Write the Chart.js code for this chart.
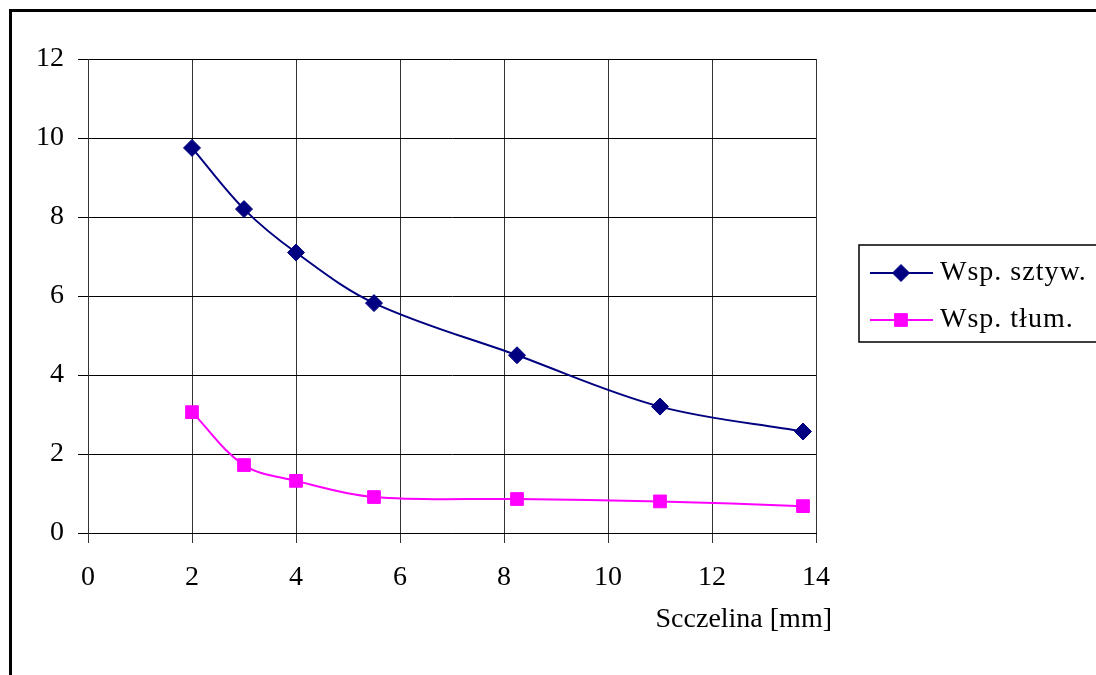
<!DOCTYPE html>
<html>
<head>
<meta charset="utf-8">
<script src="https://cdn.jsdelivr.net/npm/chart.js@4/dist/chart.umd.min.js"></script>
<style>
  html, body { margin: 0; padding: 0; background: #fff; overflow: hidden; }
  #wrap { position: relative; width: 1096px; height: 675px; }
</style>
</head>
<body>
<div id="wrap"><canvas id="chart" width="1096" height="675"></canvas></div>
<script>
// gap sizes [mm]
var gapMm = [2, 3, 4, 5.5, 8.25, 11, 13.75];
// Wsp. sztyw. (stiffness coefficient)
var stiffness = [9.75, 8.2, 7.1, 5.82, 4.5, 3.2, 2.57];
// Wsp. tłum. (damping coefficient)
var damping = [3.06, 1.72, 1.32, 0.91, 0.86, 0.8, 0.68];
var seriesNames = ['Wsp. sztyw.', 'Wsp. tłum.'];
var xTicks = [0, 2, 4, 6, 8, 10, 12, 14];
var yTicks = [0, 2, 4, 6, 8, 10, 12];
var xTitle = 'Scczelina [mm]';

var FONT = "'Liberation Serif', 'Times New Roman', serif";

function toPoints(xs, ys){
    var pts = [];
    for (var i = 0; i < xs.length; i++) {
        pts.push({x: xs[i], y: ys[i]});
    }
    return pts;
}

// frame, x-axis title and the legend box are drawn by hand
var excelDecor = {
    id: 'excelDecor',
    beforeDraw: function(chart){
        var ctx = chart.ctx;
        ctx.save();
        ctx.strokeStyle = '#000';
        ctx.lineWidth = 3;
        ctx.strokeRect(10.5, 10.5, 2000, 2000);
        ctx.restore();
    },
    afterDraw: function(chart){
        var ctx = chart.ctx;
        var area = chart.chartArea;
        ctx.save();
        ctx.font = '28px ' + FONT;
        ctx.fillStyle = '#000';
        ctx.textBaseline = 'middle';
        ctx.textAlign = 'right';
        ctx.fillText(xTitle, area.right + 16, 620);

        // legend
        ctx.strokeStyle = '#000';
        ctx.lineWidth = 1.5;
        ctx.strokeRect(859, 245, 400, 97);
        var rows = [273, 320];
        chart.data.datasets.forEach(function(ds, i){
            var y = rows[i];
            ctx.strokeStyle = ds.borderColor;
            ctx.lineWidth = 2;
            ctx.beginPath();
            ctx.moveTo(870, y);
            ctx.lineTo(933, y);
            ctx.stroke();
            ctx.fillStyle = ds.pointBackgroundColor;
            ctx.strokeStyle = ds.pointBorderColor;
            ctx.lineWidth = 1;
            Chart.helpers.drawPoint(ctx, {
                pointStyle: ds.pointStyle,
                radius: ds.pointRadius,
                borderWidth: 1
            }, 901, y);
            ctx.fillStyle = '#000';
            ctx.textAlign = 'left';
            ctx.letterSpacing = '1px';
            ctx.fillText(ds.label, 940, y);
            ctx.letterSpacing = '0px';
        });
        ctx.restore();
    }
};

var ctx = document.getElementById('chart');
var chart = new Chart(ctx, {
    type: 'line',
    data: {
        datasets: [
            {
                label: seriesNames[0],
                data: toPoints(gapMm, stiffness),
                borderColor: '#000080',
                backgroundColor: '#000080',
                borderWidth: 2,
                pointStyle: 'rectRot',
                pointRadius: 8.5,
                pointBackgroundColor: '#000080',
                pointBorderColor: '#000080',
                pointBorderWidth: 1,
                tension: 0.35
            },
            {
                label: seriesNames[1],
                data: toPoints(gapMm, damping),
                borderColor: '#ff00ff',
                backgroundColor: '#ff00ff',
                borderWidth: 2,
                pointStyle: 'rect',
                pointRadius: 9,
                pointBackgroundColor: '#ff00ff',
                pointBorderColor: '#ff00ff',
                pointBorderWidth: 1,
                tension: 0.35
            }
        ]
    },
    options: {
        responsive: false,
        animation: false,
        layout: { padding: { left: 0, top: 59, right: 280, bottom: 0 } },
        plugins: {
            legend: { display: false },
            tooltip: { enabled: false }
        },
        scales: {
            x: {
                type: 'linear',
                min: 0,
                max: 14,
                afterBuildTicks: function(scale){
                    scale.ticks = xTicks.map(function(v){ return {value: v}; });
                },
                afterFit: function(scale){ scale.height = 142; },
                grid: { color: '#333', lineWidth: 1, tickLength: 10, tickColor: '#333' },
                border: { color: '#000', width: 1 },
                ticks: {
                    color: '#000',
                    padding: 18,
                    maxRotation: 0,
                    font: { family: FONT, size: 28 }
                }
            },
            y: {
                min: 0,
                max: 12,
                afterBuildTicks: function(scale){
                    scale.ticks = yTicks.map(function(v){ return {value: v}; });
                },
                afterFit: function(scale){ scale.width = 88; },
                grid: { color: '#000', lineWidth: 1, tickLength: 10, tickColor: '#000' },
                border: { color: '#333', width: 1 },
                ticks: {
                    color: '#000',
                    padding: 14,
                    font: { family: FONT, size: 28 }
                }
            }
        }
    },
    plugins: [excelDecor]
});
</script>
</body>
</html>
